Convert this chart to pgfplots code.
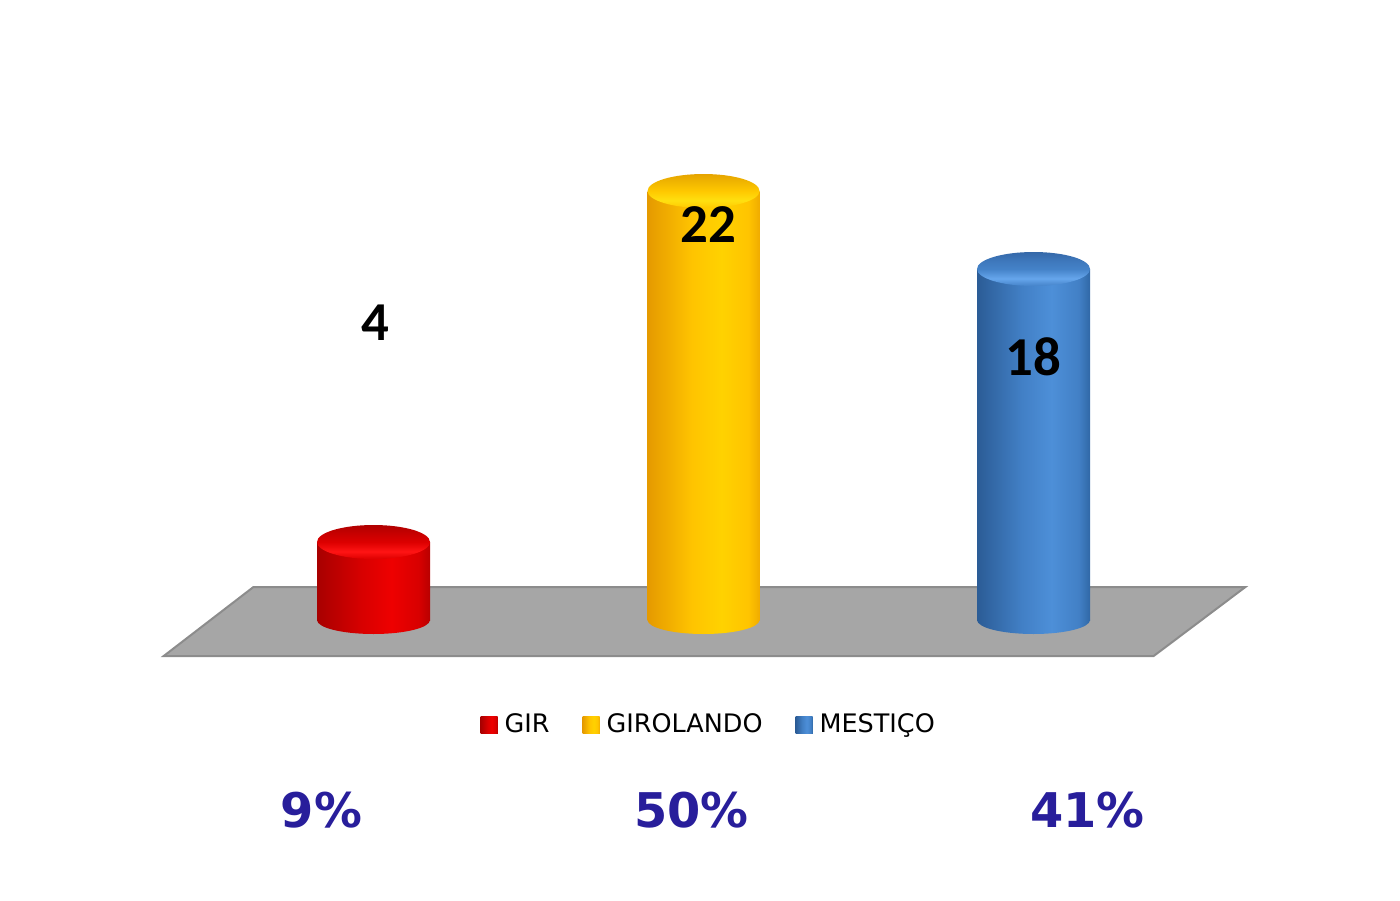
\documentclass[border=0pt]{standalone}
\usepackage{pgfplots}
\pgfplotsset{compat=1.18}
\usepackage{fontspec}
\setmainfont{DejaVu Sans}
\newfontfamily\carlito{Carlito}

\definecolor{floorfill}{HTML}{A6A6A6}
\definecolor{flooredge}{HTML}{8C8C8C}
\definecolor{rdark}{HTML}{A80000}
\definecolor{rmid}{HTML}{D80000}
\definecolor{rlight}{HTML}{EE0000}
\definecolor{rdarkR}{HTML}{B80000}
\definecolor{rtopback}{HTML}{B00000}
\definecolor{rtopmid}{HTML}{C80000}
\definecolor{rtopfront}{HTML}{DC0000}
\definecolor{rtophl}{HTML}{FF1414}
\definecolor{ydark}{HTML}{E59A00}
\definecolor{ymid}{HTML}{FFC400}
\definecolor{ylight}{HTML}{FFD200}
\definecolor{ydarkR}{HTML}{F0AC00}
\definecolor{ytopback}{HTML}{E6A400}
\definecolor{ytopmid}{HTML}{F2B800}
\definecolor{ytopfront}{HTML}{FFC800}
\definecolor{ytophl}{HTML}{FFE010}
\definecolor{bdark}{HTML}{2B5C96}
\definecolor{bmid}{HTML}{4280C6}
\definecolor{blight}{HTML}{4D8FD8}
\definecolor{bdarkR}{HTML}{3068A6}
\definecolor{btopback}{HTML}{3568A8}
\definecolor{btopmid}{HTML}{3E78BC}
\definecolor{btopfront}{HTML}{4482C8}
\definecolor{btophl}{HTML}{66A6EC}
\definecolor{legred}{HTML}{C00000}
\definecolor{legyel}{HTML}{F0B400}
\definecolor{legblue}{HTML}{3A70B0}
\definecolor{pctblue}{RGB}{40,30,155}

\pgfdeclarehorizontalshading{redside}{100bp}{color(0bp)=(rdark); color(25bp)=(rdark); color(45bp)=(rmid); color(58bp)=(rlight); color(70bp)=(rmid); color(75bp)=(rdarkR); color(100bp)=(rdarkR)}
\pgfdeclarehorizontalshading{yelside}{100bp}{color(0bp)=(ydark); color(25bp)=(ydark); color(45bp)=(ymid); color(58bp)=(ylight); color(70bp)=(ymid); color(75bp)=(ydarkR); color(100bp)=(ydarkR)}
\pgfdeclarehorizontalshading{bluside}{100bp}{color(0bp)=(bdark); color(25bp)=(bdark); color(45bp)=(bmid); color(58bp)=(blight); color(70bp)=(bmid); color(75bp)=(bdarkR); color(100bp)=(bdarkR)}
\pgfdeclareverticalshading{redtop}{100bp}{color(0bp)=(rtopfront); color(25bp)=(rtopfront); color(36bp)=(rtophl); color(50bp)=(rtopfront); color(62bp)=(rtopmid); color(75bp)=(rtopback); color(100bp)=(rtopback)}
\pgfdeclareverticalshading{yeltop}{100bp}{color(0bp)=(ytopfront); color(25bp)=(ytopfront); color(36bp)=(ytophl); color(50bp)=(ytopfront); color(62bp)=(ytopmid); color(75bp)=(ytopback); color(100bp)=(ytopback)}
\pgfdeclareverticalshading{blutop}{100bp}{color(0bp)=(btopfront); color(25bp)=(btopfront); color(36bp)=(btophl); color(50bp)=(btopfront); color(62bp)=(btopmid); color(75bp)=(btopback); color(100bp)=(btopback)}

\pgfdeclareplotmark{redbot}{\path[draw=none, shading=redside, shade] (0pt,0pt) ellipse (5.65mm and 1.4mm);}
\pgfdeclareplotmark{yelbot}{\path[draw=none, shading=yelside, shade] (0pt,0pt) ellipse (5.6mm and 1.4mm);}
\pgfdeclareplotmark{blubot}{\path[draw=none, shading=bluside, shade] (0pt,0pt) ellipse (5.65mm and 1.4mm);}
\pgfdeclareplotmark{redcap}{\path[draw=none, shading=redtop, shade] (0pt,0pt) ellipse (5.65mm and 1.7mm);}
\pgfdeclareplotmark{yelcap}{\path[draw=none, shading=yeltop, shade] (0pt,0pt) ellipse (5.6mm and 1.7mm);}
\pgfdeclareplotmark{blucap}{\path[draw=none, shading=blutop, shade] (0pt,0pt) ellipse (5.65mm and 1.7mm);}

\begin{document}
\begin{tikzpicture}
\begin{axis}[
  width=14cm, height=9cm, scale only axis,
  xmin=-1.1318, xmax=3.1106,
  ymin=-14.359, ymax=31.795,
  axis line style={draw=none},
  xtick=\empty, ytick=\empty,
  legend style={at={(0.508,0.194)}, anchor=center, draw=none, fill=none,
    font=\fontsize{7.25}{9}\selectfont,
    /tikz/every even column/.append style={column sep=2.6mm}},
  legend columns=3,
]
% floor
\addplot[fill=floorfill, draw=flooredge, line width=0.2mm, forget plot]
  coordinates {(-0.636,-1.85) (2.364,-1.85) (2.642,1.69) (-0.364,1.69)} --cycle;

% GIR
\addplot[only marks, mark=redbot, mark options={draw=none}, forget plot] coordinates {(0,0)};
\addplot[ybar, bar width=11.3mm, bar shift=0pt, draw=none, shading=redside, shade,
  legend image code/.code={\fill[legred] (0mm,-0.85mm) rectangle (1.7mm,0.85mm);}]
  coordinates {(0,4)};
\addlegendentry{GIR}
\addplot[only marks, mark=redcap, mark options={draw=none}, forget plot] coordinates {(0,4)};

% GIROLANDO
\addplot[only marks, mark=yelbot, mark options={draw=none}, forget plot] coordinates {(1,0)};
\addplot[ybar, bar width=11.2mm, bar shift=0pt, draw=none, shading=yelside, shade,
  legend image code/.code={\fill[legyel] (0mm,-0.85mm) rectangle (1.7mm,0.85mm);}]
  coordinates {(1,22)};
\addlegendentry{GIROLANDO}
\addplot[only marks, mark=yelcap, mark options={draw=none}, forget plot] coordinates {(1,22)};

% MESTICO
\addplot[only marks, mark=blubot, mark options={draw=none}, forget plot] coordinates {(2,0)};
\addplot[ybar, bar width=11.3mm, bar shift=0pt, draw=none, shading=bluside, shade,
  legend image code/.code={\fill[legblue] (0mm,-0.85mm) rectangle (1.7mm,0.85mm);}]
  coordinates {(2,18)};
\addlegendentry{MESTIÇO}
\addplot[only marks, mark=blucap, mark options={draw=none}, forget plot] coordinates {(2,18)};

% value labels
\addplot[draw=none, mark=none, forget plot, point meta=explicit symbolic,
  nodes near coords, nodes near coords style={anchor=center, black,
  font=\carlito\bfseries\fontsize{15.6}{18}\selectfont}]
  coordinates {(0.006,15.23) [4] (1.015,20.26) [22] (2.0,13.49) [18]};

% percentages
\addplot[draw=none, mark=none, forget plot, point meta=explicit symbolic,
  nodes near coords, nodes near coords style={anchor=center, pctblue,
  font=\bfseries\fontsize{13.6}{16}\selectfont}]
  coordinates {(-0.158,-9.74) [9\%] (0.964,-9.74) [50\%] (2.164,-9.74) [41\%]};
\end{axis}
\end{tikzpicture}
\end{document}
